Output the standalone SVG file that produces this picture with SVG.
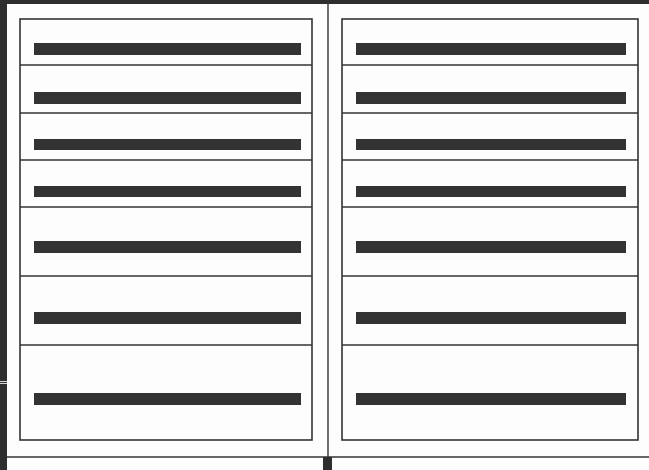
<svg xmlns="http://www.w3.org/2000/svg" width="649" height="470" viewBox="0 0 649 470">
<style>
.frame{fill:none;stroke:#333;stroke-width:1.6}
.div{stroke:#333;stroke-width:1.4}
.bar{fill:#333}
.dark{fill:#2e2e2e}
</style>
<rect x="0" y="0" width="649" height="470" fill="#fdfdfd"/>
<g id="cabinet">
<rect class="dark" x="0" y="0" width="649" height="4"/>
<rect class="dark" x="0" y="0" width="7" height="381"/>
<rect class="dark" x="0" y="384" width="7" height="86"/>
<line class="div" x1="0" y1="382.5" x2="7" y2="382.5"/>
<line class="div" x1="328" y1="0" x2="328" y2="457"/>
<line class="div" x1="7" y1="457" x2="649" y2="457"/>
<rect class="dark" x="323" y="457" width="9" height="13"/>
</g>
<g id="left-column">
<rect class="frame" x="20" y="19" width="292" height="421"/>
<line class="div" x1="20" y1="65" x2="312" y2="65"/>
<line class="div" x1="20" y1="113" x2="312" y2="113"/>
<line class="div" x1="20" y1="160" x2="312" y2="160"/>
<line class="div" x1="20" y1="207" x2="312" y2="207"/>
<line class="div" x1="20" y1="276" x2="312" y2="276"/>
<line class="div" x1="20" y1="345" x2="312" y2="345"/>
<rect class="bar" x="34" y="43" width="267" height="12"/>
<rect class="bar" x="34" y="92" width="267" height="12"/>
<rect class="bar" x="34" y="139" width="267" height="11"/>
<rect class="bar" x="34" y="186" width="267" height="11"/>
<rect class="bar" x="34" y="241" width="267" height="12"/>
<rect class="bar" x="34" y="312" width="267" height="12"/>
<rect class="bar" x="34" y="393" width="267" height="12"/>
</g>
<g id="right-column">
<rect class="frame" x="342" y="19" width="296" height="421"/>
<line class="div" x1="342" y1="65" x2="638" y2="65"/>
<line class="div" x1="342" y1="113" x2="638" y2="113"/>
<line class="div" x1="342" y1="160" x2="638" y2="160"/>
<line class="div" x1="342" y1="207" x2="638" y2="207"/>
<line class="div" x1="342" y1="276" x2="638" y2="276"/>
<line class="div" x1="342" y1="345" x2="638" y2="345"/>
<rect class="bar" x="356" y="43" width="270" height="12"/>
<rect class="bar" x="356" y="92" width="270" height="12"/>
<rect class="bar" x="356" y="139" width="270" height="11"/>
<rect class="bar" x="356" y="186" width="270" height="11"/>
<rect class="bar" x="356" y="241" width="270" height="12"/>
<rect class="bar" x="356" y="312" width="270" height="12"/>
<rect class="bar" x="356" y="393" width="270" height="12"/>
</g>
</svg>
